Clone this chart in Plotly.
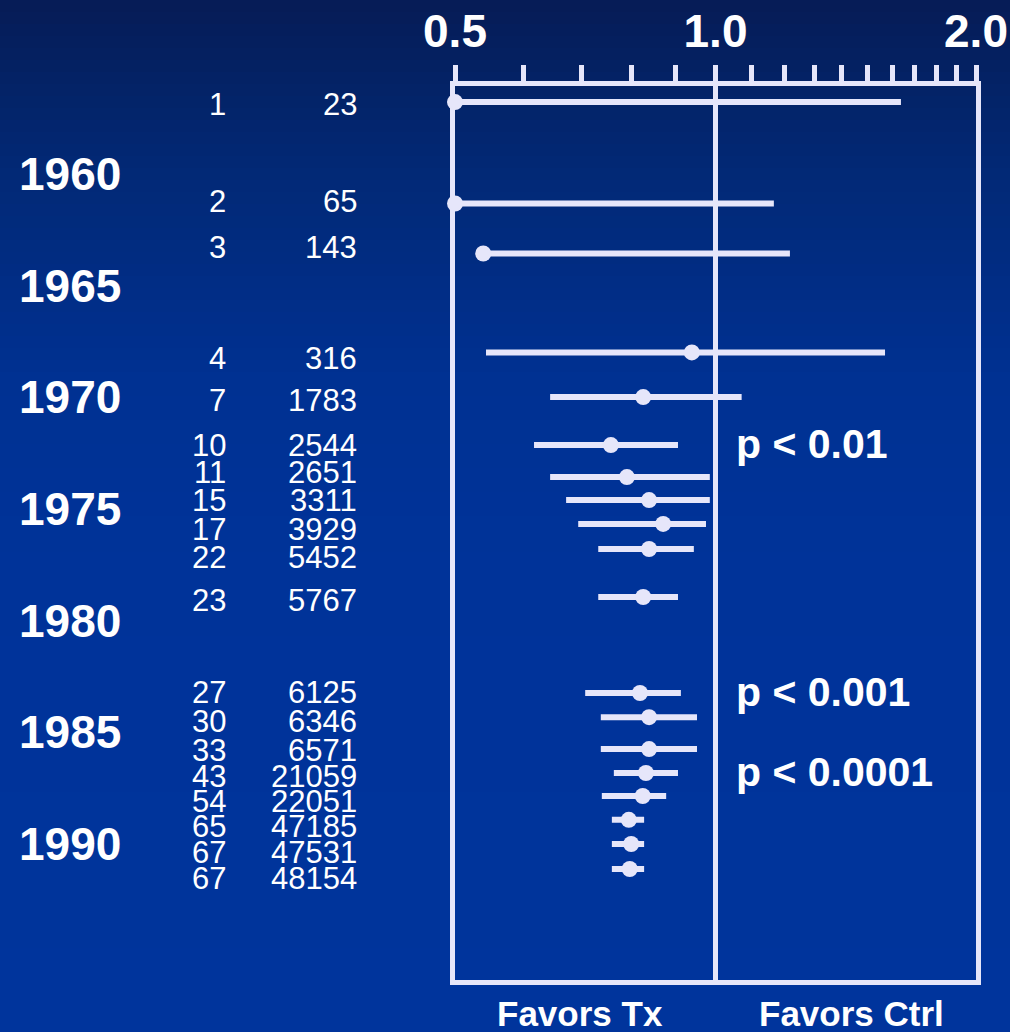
import math
import plotly.graph_objects as go

# ---------------- data ----------------
n_trials = ["1", "2", "3", "4", "7", "10", "11", "15", "17", "22", "23",
            "27", "30", "33", "43", "54", "65", "67", "67"]
n_patients = ["23", "65", "143", "316", "1783", "2544", "2651", "3311", "3929",
              "5452", "5767", "6125", "6346", "6571", "21059", "22051",
              "47185", "47531", "48154"]
# vertical position of each cumulative estimate, in calendar-year units
row_year = [1956.78, 1961.32, 1963.56, 1967.99, 1969.99, 1972.14, 1973.57,
            1974.60, 1975.67, 1976.79, 1978.94, 1983.24, 1984.32, 1985.75,
            1986.82, 1987.85, 1988.92, 1990.00, 1991.12]
# vertical position of the table text for each row (year units)
label_year = [1956.91, 1961.25, 1963.31, 1968.28, 1970.12, 1972.14, 1973.35,
              1974.62, 1975.90, 1977.15, 1979.08, 1983.22, 1984.50, 1985.80,
              1986.98, 1988.11, 1989.20, 1990.40, 1991.56]
odds_ratio = [0.5, 0.5, 0.539, 0.939, 0.825, 0.757, 0.790, 0.838, 0.870,
              0.838, 0.825, 0.818, 0.838, 0.838, 0.831, 0.824, 0.794, 0.799,
              0.796]
ci_low = [0.50, 0.50, 0.539, 0.543, 0.644, 0.617, 0.644, 0.672, 0.694, 0.732,
          0.732, 0.707, 0.737, 0.737, 0.763, 0.739, 0.759, 0.759, 0.759]
ci_high = [1.638, 1.168, 1.219, 1.570, 1.072, 0.905, 0.985, 0.985, 0.975,
           0.944, 0.905, 0.912, 0.952, 0.952, 0.905, 0.877, 0.827, 0.827,
           0.827]

decade_years = [1960, 1965, 1970, 1975, 1980, 1985, 1990]
x_tickvals = [0.5, 0.6, 0.7, 0.8, 0.9, 1.0, 1.1, 1.2, 1.3, 1.4, 1.5, 1.6,
              1.7, 1.8, 1.9, 2.0]
x_ticklabels = {0.5: "0.5", 1.0: "1.0", 2.0: "2.0"}
p_labels = ["p < 0.01", "p < 0.001", "p < 0.0001"]
p_row_index = [5, 11, 14]
favors_labels = ["Favors Tx", "Favors Ctrl"]

# ---------------- layout geometry ----------------
W, H = 1010, 1032
L, R, T, B = 455, 976, 86, 980
PW, PH = R - L, B - T
Y_TOP, Y_BOTTOM = 1956.06, 1996.09
LINE = "#E6E6FA"
FONT = "Arial, Liberation Sans, Helvetica, sans-serif"


def px_x(px):
    return (px - L) / PW


def px_y(py):
    return (B - py) / PH


fig = go.Figure()

# confidence interval segments
seg_x, seg_y = [], []
for lo, hi, yy in zip(ci_low, ci_high, row_year):
    seg_x += [lo, hi, None]
    seg_y += [yy, yy, None]
fig.add_trace(go.Scatter(x=seg_x, y=seg_y, mode="lines",
                         line=dict(color=LINE, width=6), hoverinfo="skip"))

# line of no effect
fig.add_trace(go.Scatter(x=[1.0, 1.0], y=[Y_TOP, Y_BOTTOM], mode="lines",
                         line=dict(color=LINE, width=5), hoverinfo="skip"))

# point estimates
fig.add_trace(go.Scatter(x=odds_ratio, y=row_year, mode="markers",
                         marker=dict(color=LINE, size=16),
                         cliponaxis=False))

annotations = []
for yr in decade_years:
    annotations.append(dict(x=px_x(123), xref="paper", y=yr, yref="y",
                            text=f"<b>{yr}</b>", showarrow=False,
                            xanchor="right", yanchor="middle",
                            font=dict(family=FONT, size=46, color="white")))
for nt, npat, yy in zip(n_trials, n_patients, label_year):
    annotations.append(dict(x=px_x(228), xref="paper", y=yy, yref="y",
                            text=nt, showarrow=False, xanchor="right",
                            yanchor="middle",
                            font=dict(family=FONT, size=31, color="white")))
    annotations.append(dict(x=px_x(359), xref="paper", y=yy, yref="y",
                            text=npat, showarrow=False, xanchor="right",
                            yanchor="middle",
                            font=dict(family=FONT, size=31, color="white")))
for lab, idx in zip(p_labels, p_row_index):
    annotations.append(dict(x=px_x(734), xref="paper", y=row_year[idx],
                            yref="y", text=f"<b>{lab}</b>", showarrow=False,
                            xanchor="left", yanchor="middle", yshift=1,
                            font=dict(family=FONT, size=41, color="white")))
for lab, cx in zip(favors_labels, [580, 851]):
    annotations.append(dict(x=px_x(cx), xref="paper", y=px_y(1014),
                            yref="paper", text=f"<b>{lab}</b>",
                            showarrow=False, xanchor="center",
                            yanchor="middle",
                            font=dict(family=FONT, size=35, color="white")))

# background gradient (dark navy at top to royal blue)
stops = [(0, (6, 28, 86)), (160, (2, 40, 116)), (380, (0, 49, 146)),
         (560, (0, 51, 153)), (H, (0, 52, 156))]


def colour_at(py):
    for (p0, c0), (p1, c1) in zip(stops[:-1], stops[1:]):
        if p0 <= py <= p1:
            t = (py - p0) / (p1 - p0)
            c = [round(a + (b - a) * t) for a, b in zip(c0, c1)]
            return f"rgb({c[0]},{c[1]},{c[2]})"
    return "rgb(0,52,156)"


shapes = []
n_strips = 86
for i in range(n_strips):
    y0 = H * i / n_strips
    y1 = H * (i + 1) / n_strips
    shapes.append(dict(type="rect", xref="paper", yref="paper",
                       x0=px_x(0), x1=px_x(W), y0=px_y(y1 + 0.5),
                       y1=px_y(y0), layer="below", line=dict(width=0),
                       fillcolor=colour_at((y0 + y1) / 2)))

fig.update_layout(
    width=W, height=H,
    margin=dict(l=L, r=W - R, t=T, b=H - B, pad=0, autoexpand=False),
    paper_bgcolor="rgb(0,51,153)",
    plot_bgcolor="rgba(0,0,0,0)",
    showlegend=False,
    annotations=annotations,
    shapes=shapes,
    xaxis=dict(type="log", range=[math.log10(0.5), math.log10(2.0)],
               side="top", showgrid=False, zeroline=False, automargin=False,
               showline=True, linecolor=LINE, linewidth=5, mirror=True,
               ticks="outside", ticklen=16, tickwidth=5, tickcolor=LINE,
               tickvals=x_tickvals,
               ticktext=[f"<b>{x_ticklabels[v]}</b>" if v in x_ticklabels
                         else "" for v in x_tickvals],
               tickfont=dict(family=FONT, size=46, color="white"),
               fixedrange=True),
    yaxis=dict(range=[Y_BOTTOM, Y_TOP], showgrid=False, zeroline=False,
               automargin=False,
               showline=True, linecolor=LINE, linewidth=5, mirror=True,
               ticks="", showticklabels=False, fixedrange=True),
)

fig.write_html(
    "out.html",
    config={"responsive": False, "displayModeBar": False},
    post_script="document.body.style.margin='0';"
                "document.body.style.overflow='hidden';",
)
